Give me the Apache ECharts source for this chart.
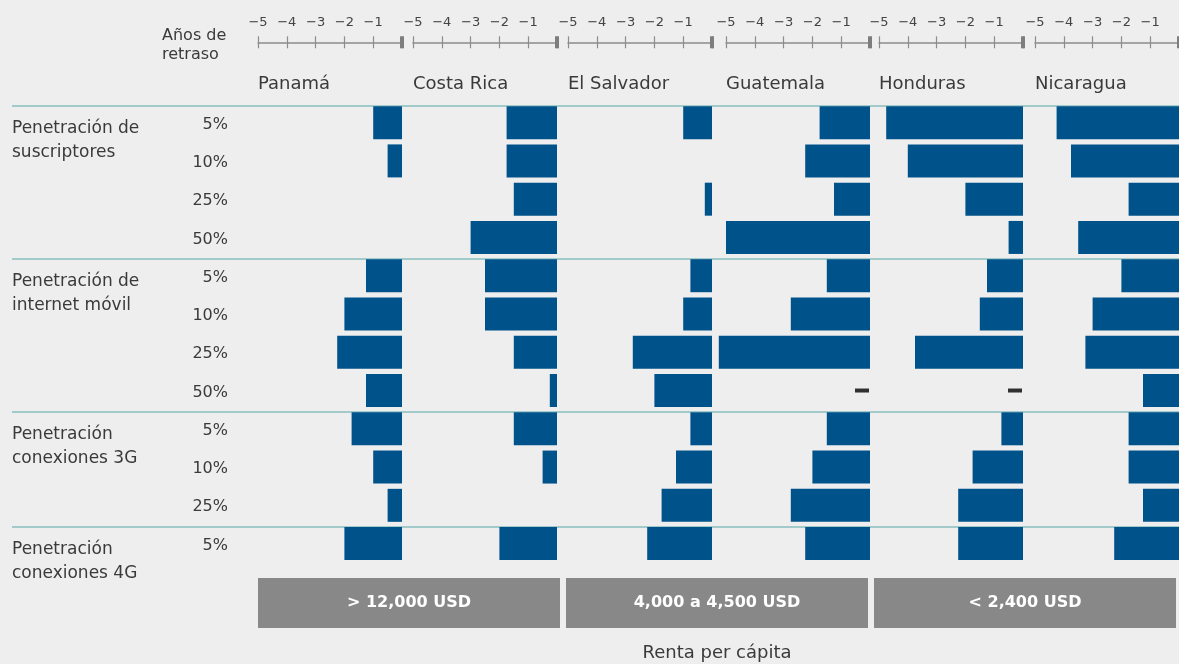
<!DOCTYPE html>
<html><head><meta charset="utf-8">
<script src="https://cdn.jsdelivr.net/npm/echarts@6/dist/echarts.min.js"></script>
<style>html,body{margin:0;padding:0;background:#eeeeee}#c{width:1179px;height:664px}</style>
</head><body><div id="c"></div>
<script>
// ---- data ----
const countries = ['Panamá', 'Costa Rica', 'El Salvador', 'Guatemala', 'Honduras', 'Nicaragua'];
const rowLabels = ['5%', '10%', '25%', '50%', '5%', '10%', '25%', '50%', '5%', '10%', '25%', '5%'];
const groupLabels = ['Penetración de\nsuscriptores', '', '', '', 'Penetración de\ninternet móvil', '', '', '',
  'Penetración\nconexiones 3G', '', '', 'Penetración\nconexiones 4G'];
const groupStarts = [0, 4, 8, 11];
const tickValues = [-5, -4, -3, -2, -1];
const incomeBands = ['> 12,000 USD', '4,000 a 4,500 USD', '< 2,400 USD'];
// years of delay (negative), null = no data (dash)
const panama     = [-1, -0.5, 0, 0, -1.25, -2, -2.25, -1.25, -1.75, -1, -0.5, -2];
const costaRica  = [-1.75, -1.75, -1.5, -3, -2.5, -2.5, -1.5, -0.25, -1.5, -0.5, 0, -2];
const elSalvador = [-1, 0, -0.25, 0, -0.75, -1, -2.75, -2, -0.75, -1.25, -1.75, -2.25];
const guatemala  = [-1.75, -2.25, -1.25, -5, -1.5, -2.75, -5.25, null, -1.5, -2, -2.75, -2.25];
const honduras   = [-4.75, -4, -2, -0.5, -1.25, -1.5, -3.75, null, -0.75, -1.75, -2.25, -2.25];
const nicaragua  = [-4.25, -3.75, -1.75, -3.5, -2, -3, -3.25, -1.25, -1.75, -1.75, -1.25, -2.25];
const values = [panama, costaRica, elSalvador, guatemala, honduras, nicaragua];

// ---- layout / style ----
const FONT = 'DejaVu Sans';
const TXT = '#3a3a3a';
const BAR = '#00528a';
const LINE = '#a2caca';
const AX = '#8c8c8c';
const gridLefts = [258, 413, 568, 726, 879, 1035];
const PW = 144;
const ROWH = 38.27;
const TOP = 103.5;
const H = ROWH * 12;
const AXIS_Y = 42.3;

const grid = [], xAxis = [], yAxis = [], series = [], title = [];
const minus = v => (v < 0 ? '\u2212' + Math.abs(v) : String(v));

countries.forEach((c, i) => {
  grid.push({ left: gridLefts[i], top: TOP, width: PW, height: H });
  const base = { gridIndex: i, type: 'value', min: -5, max: 0, interval: 1, position: 'top',
    splitLine: { show: false } };
  // labels + upward ticks + line
  xAxis.push(Object.assign({}, base, {
    offset: TOP - AXIS_Y,
    axisLine: { show: true, lineStyle: { color: AX, width: 1.5 } },
    axisTick: { show: true, inside: false, length: 6, lineStyle: { color: AX, width: 1.2 } },
    axisLabel: { show: true, customValues: tickValues, formatter: minus, margin: 13,
      fontFamily: FONT, fontSize: 13, color: '#444' }
  }));
  // downward ticks
  xAxis.push(Object.assign({}, base, {
    offset: TOP - AXIS_Y,
    axisLine: { show: false },
    axisTick: { show: true, inside: true, length: 6, lineStyle: { color: AX, width: 1.2 } },
    axisLabel: { show: false }
  }));
  // thick zero tick
  xAxis.push(Object.assign({}, base, {
    offset: TOP - AXIS_Y - 6,
    axisLine: { show: false },
    axisTick: { show: true, inside: false, length: 12, customValues: [0],
      lineStyle: { color: '#7d7d7d', width: 4 } },
    axisLabel: { show: false }
  }));
  yAxis.push({ gridIndex: i, type: 'category', inverse: true, data: rowLabels, show: false });
  series.push({
    type: 'bar', xAxisIndex: i * 3, yAxisIndex: i, data: values[i], barWidth: 33,
    itemStyle: { color: BAR }, clip: false, silent: true
  });
  const dashes = [];
  values[i].forEach((v, r) => { if (v === null) dashes.push([0, r]); });
  if (dashes.length) {
    series.push({
      type: 'scatter', xAxisIndex: i * 3, yAxisIndex: i, data: dashes,
      symbol: 'rect', symbolSize: [14, 4], symbolOffset: [-8, 0],
      itemStyle: { color: '#000' }, clip: false, silent: true
    });
  }
  title.push({ text: c, left: gridLefts[i], top: 74, padding: 0,
    textStyle: { fontFamily: FONT, fontSize: 18, fontWeight: 'normal', color: TXT, lineHeight: 20 } });
});

// background grid: separators, row labels, group labels
const BG = countries.length;
grid.push({ left: 12, width: 1167, top: TOP + 2, height: H });
xAxis.push({ gridIndex: BG, type: 'value', show: false });
const sepColors = groupStarts.map(() => LINE).concat(['rgba(0,0,0,0)']);
yAxis.push({
  gridIndex: BG, type: 'category', inverse: true, data: rowLabels, position: 'left',
  axisLine: { show: false }, axisTick: { show: false },
  axisLabel: { inside: true, margin: 216, align: 'right', fontFamily: FONT, fontSize: 16, color: TXT, interval: 0 },
  splitLine: { show: true, interval: (idx) => groupStarts.includes(idx),
    lineStyle: { color: sepColors, width: 2 } }
});
yAxis.push({
  gridIndex: BG, type: 'category', inverse: true, data: groupLabels, position: 'left',
  axisLine: { show: false }, axisTick: { show: false }, splitLine: { show: false },
  axisLabel: { inside: true, margin: 0, align: 'left', verticalAlign: 'top', interval: 0,
    formatter: (v) => {
      if (!v) return '';
      const p = v.split('\n');
      return '{a|' + p[0] + '}\n{b|' + p[1] + '}';
    },
    rich: {
      a: { fontFamily: FONT, fontSize: 17, color: TXT, lineHeight: 8 },
      b: { fontFamily: FONT, fontSize: 17, color: TXT, lineHeight: 40 }
    }
  }
});

// bottom income bands (labels centred on category points)
const BOT = countries.length + 1;
grid.push({ left: 409, width: 620, top: 500, height: 78 });
xAxis.push({
  gridIndex: BOT, type: 'category', data: incomeBands, position: 'bottom', boundaryGap: false,
  axisLine: { show: false }, axisTick: { show: false },
  axisLabel: { interval: 0, margin: 0, backgroundColor: '#888888', width: 302, height: 50,
    lineHeight: 50, align: 'center', verticalAlign: 'top', color: '#ffffff',
    fontFamily: FONT, fontSize: 16, fontWeight: 'bold' },
  name: 'Renta per cápita', nameLocation: 'middle', nameGap: 66,
  nameTextStyle: { fontFamily: FONT, fontSize: 18, color: TXT }
});
yAxis.push({ gridIndex: BOT, type: 'value', show: false });

title.push({ text: 'Años de\nretraso', left: 162, top: 26, padding: 0,
  textStyle: { fontFamily: FONT, fontSize: 16, fontWeight: 'normal', color: TXT, lineHeight: 19 } });

const chart = echarts.init(document.getElementById('c'), null, { renderer: 'canvas' });
chart.setOption({
  backgroundColor: '#eeeeee',
  animation: false,
  title, grid, xAxis, yAxis, series
});
</script></body></html>
